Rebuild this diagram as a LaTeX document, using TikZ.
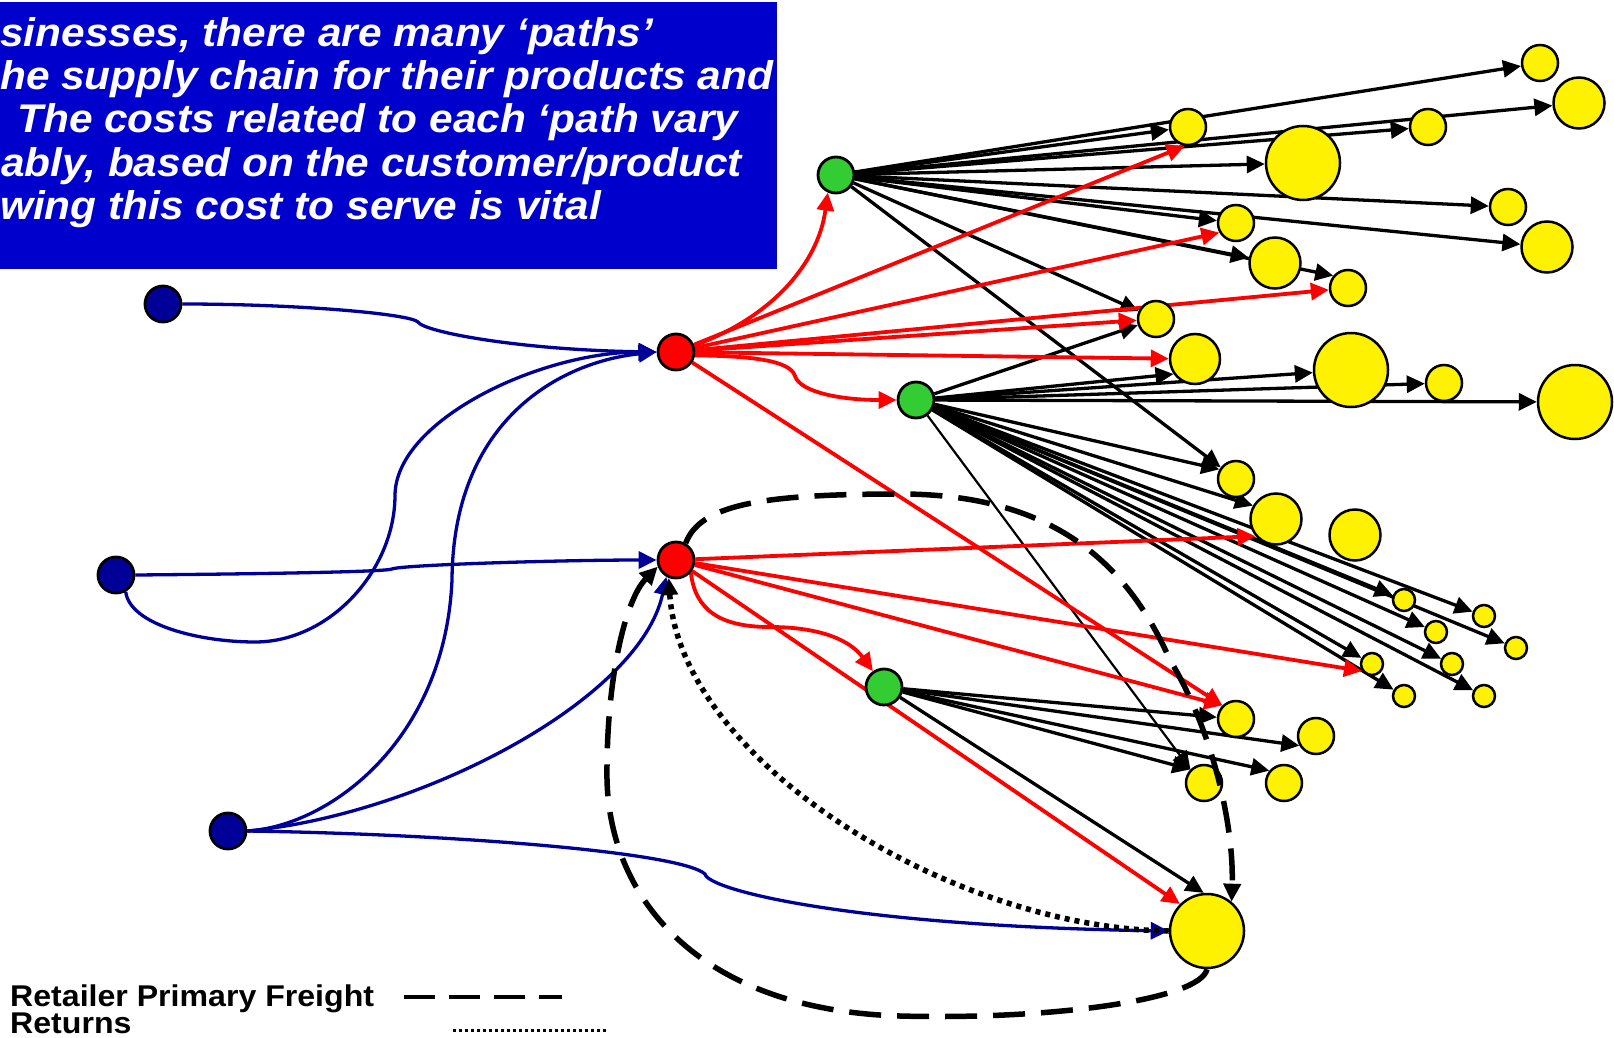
\documentclass[tikz,border=0pt]{standalone}
\usepackage{fontspec}
\setmainfont{Liberation Sans}
\newfontfamily\cajafont[FakeStretch=1.06]{Liberation Sans}
\newfontfamily\leyfont[FakeStretch=1.07]{Liberation Sans}
\usetikzlibrary{arrows.meta,backgrounds}

\definecolor{cajaazul}{RGB}{0,0,204}
\definecolor{marino}{RGB}{0,0,153}
\definecolor{verde}{RGB}{51,204,51}

\begin{document}
\begin{tikzpicture}[x=1pt, y=-1pt,
    nodo/.style={circle, draw=black, line width=2.8pt, inner sep=0pt},
    origen/.style={nodo, fill=marino, minimum size=36pt},
    hub/.style={nodo, fill=red, minimum size=36pt},
    cd/.style={nodo, fill=verde, minimum size=36pt},
    cli/.style={nodo, fill=yellow, line width=2.5pt, minimum size=#1},
    cli/.default=36pt,
    flecha/.style={-{Triangle[length=18pt,width=17pt]}},
    negra/.style={flecha, black, line width=3.3pt},
    roja/.style={flecha, red, line width=3.8pt},
    azul/.style={flecha, marino, line width=3.3pt},
    flete/.style={black, line width=5.5pt, dash pattern=on 32pt off 16pt,
        -{Triangle[length=18pt,width=17pt]}},
    retorno/.style={black, line width=5.5pt, dash pattern=on 5pt off 5pt,
        -{Triangle[length=17pt,width=16pt]}},
    texto/.style={anchor=base west, inner sep=0pt},
]
    \useasboundingbox (0,0) rectangle (1614,1038);

    % Orígenes, centros y distribuidores
    \node[origen] (S1) at (163,304) {};
    \node[origen] (S2) at (116,575) {};
    \node[origen] (S3) at (228,831) {};
    \node[hub]    (R1) at (676,352) {};
    \node[hub]    (R2) at (676,560) {};
    \node[cd]     (G1) at (836,175) {};
    \node[cd]     (G2) at (916,400) {};
    \node[cd]     (G3) at (884,687) {};

    % Clientes
    \node[cli]      (Ca)  at (1540,63)  {};
    \node[cli=51pt] (Cb)  at (1579,103) {};
    \node[cli]      (Cc)  at (1188,127) {};
    \node[cli]      (Cd)  at (1428,127) {};
    \node[cli=74pt] (Ce)  at (1303,163) {};
    \node[cli]      (Cf)  at (1508,207) {};
    \node[cli=51pt] (Cg)  at (1547,247) {};
    \node[cli]      (Ch)  at (1236,223) {};
    \node[cli=51pt] (Ci)  at (1275,263) {};
    \node[cli]      (Cj)  at (1348,288) {};
    \node[cli]      (Ck)  at (1156,319) {};
    \node[cli=50pt] (Cl)  at (1195,359) {};
    \node[cli=74pt] (Cm)  at (1351,370) {};
    \node[cli]      (Cn)  at (1444,383) {};
    \node[cli=74pt] (Co)  at (1575,402) {};
    \node[cli]      (Cp)  at (1236,479) {};
    \node[cli=51pt] (Cq)  at (1276,519) {};
    \node[cli=51pt] (Cr)  at (1355,535) {};
    \node[cli=22pt] (Cs1) at (1404,600) {};
    \node[cli=22pt] (Cs2) at (1484,616) {};
    \node[cli=22pt] (Cs3) at (1436,632) {};
    \node[cli=22pt] (Cs4) at (1516,648) {};
    \node[cli=22pt] (Cs5) at (1452,664) {};
    \node[cli=22pt] (Cs6) at (1372,664) {};
    \node[cli=22pt] (Cs7) at (1404,696) {};
    \node[cli=22pt] (Cs8) at (1484,696) {};
    \node[cli]      (Ct)  at (1236,719) {};
    \node[cli]      (Cu)  at (1316,736) {};
    \node[cli]      (Cv)  at (1204,783) {};
    \node[cli]      (Cw)  at (1284,783) {};
    \node[cli=74pt] (Cz)  at (1207,931) {};

    \begin{scope}[on background layer]
    % Recuadro de texto
    \fill[cajaazul] (0,2) rectangle (777,269);

    % Envíos desde los distribuidores
    \draw[negra] (G1) -- (Ca);
    \draw[negra] (G1) -- (Cb);
    \draw[negra] (G1) -- (Cc);
    \draw[negra] (G1) -- (Cd);
    \draw[negra] (G1) -- (Ce);
    \draw[negra] (G1) -- (Cf);
    \draw[negra] (G1) -- (Cg);
    \draw[negra] (G1) -- (Ch);
    \draw[negra] (G1) -- (Ci);
    \draw[negra] (G1) -- (Cj.140);
    \draw[negra] (G1) -- (Ck);
    \draw[negra] (G1) -- (Cp);
    \draw[negra] (G2) -- (Ck);
    \draw[negra] (G2) -- (Cl.-145);
    \draw[negra] (G2) -- (Cm);
    \draw[negra] (G2) -- (Cn);
    \draw[negra] (G2) -- (Co);
    \draw[negra] (G2) -- (Cp.150);
    \draw[negra] (G2) -- (Cq.150);
    \draw[negra] (G2) -- (Cs1);
    \draw[negra] (G2) -- (Cs2);
    \draw[negra] (G2) -- (Cs3);
    \draw[negra] (G2) -- (Cs4);
    \draw[negra] (G2) -- (Cs5);
    \draw[negra] (G2) -- (Cs6);
    \draw[negra] (G2) -- (Cs7);
    \draw[negra] (G2) -- (Cs8);
    \draw[negra, line width=2.2pt] (G2) -- (Cv.135);
    \draw[negra] (G3) -- (Ct);
    \draw[negra] (G3) -- (Cu.-150);
    \draw[negra] (G3) -- (Cv.135);
    \draw[negra] (G3) -- (Cw.140);
    \draw[negra] (G3) -- (Cz.95);

    % Envíos desde los centros
    \draw[roja] (R1) .. controls (770,318) and (818,265) .. (G1.-115);
    \draw[roja] (R1.-10) .. controls (750,356) and (790,360) .. (795,376)
        .. controls (800,392) and (840,400) .. (G2.west);
    \draw[roja] (R1) -- (Cc.-100);
    \draw[roja] (R1) -- (Ch.-150);
    \draw[roja] (R1) -- (Cj);
    \draw[roja] (R1) -- (Ck);
    \draw[roja] (R1) -- (Cl);
    \draw[roja] (R1) -- (Ct.135);
    \draw[roja] (R2.-40) .. controls (695,610) and (720,627) .. (770,627)
        .. controls (820,627) and (850,640) .. (G3.125);
    \draw[roja] (R2) -- (Cq.-140);
    \draw[roja] (R2) -- (Cs6.-145);
    \draw[roja] (R2) -- (Ct.135);
    \draw[roja] (R2) -- (Cz.135);

    % Abastecimiento desde los orígenes
    \draw[azul] (S1.east) .. controls (300,304) and (410,314) .. (418,322)
        .. controls (424,332) and (520,350) .. (R1.west);
    \draw[azul] (S2.-60) .. controls (130,625) and (200,642) .. (255,642)
        .. controls (330,642) and (395,570) .. (395,495)
        .. controls (396,420) and (540,352) .. (R1.west);
    \draw[azul] (S3.east) .. controls (330,826) and (445,740) .. (452,580)
        .. controls (453,420) and (560,362) .. (R1.west);
    \draw[azul] (S2.east) .. controls (250,574) and (385,572) .. (392,569)
        .. controls (400,565) and (560,560) .. (R2.west);
    \draw[azul] (S3.east) .. controls (420,815) and (640,700) .. (R2.-120);
    \draw[azul] (S3.east) .. controls (450,834) and (680,852) .. (705,874)
        .. controls (708,890) and (850,926) .. (Cz.west);
    \end{scope}

    % Flete primario y devoluciones
    \draw[flete] (R2.60) .. controls (700,505) and (760,494) .. (900,494)
        .. controls (1060,494) and (1130,570) .. (1170,660)
        .. controls (1215,735) and (1234,830) .. (Cz.50);
    \draw[flete] (Cz.south) .. controls (1200,1000) and (1050,1020) .. (900,1016)
        .. controls (700,1010) and (610,900) .. (607,780)
        .. controls (606,680) and (625,600) .. (R2.-160);
    \draw[retorno] (Cz.west) .. controls (950,928) and (680,760) .. (R2.-112);

    % Texto del recuadro
    \begin{scope}[font=\cajafont\bfseries\itshape\fontsize{40}{43}\selectfont, white]
    \node[texto] (t1) at (0,47)  {sinesses, there are many ‘paths’};
    \node[texto] (t2) at (0,90)  {he supply chain for their products and};
    \node[texto] (t3) at (17,133) {The costs related to each ‘path vary};
    \node[texto] (t4) at (1,176) {ably, based on the customer/product};
    \node[texto] (t5) at (0,219) {wing this cost to serve is vital};
    \end{scope}

    % Leyenda
    \begin{scope}[font=\leyfont\bfseries\fontsize{30}{32}\selectfont]
    \node[texto] (l1) at (10,1006) {Retailer Primary Freight};
    \node[texto] (l2) at (10,1033) {Returns};
    \end{scope}
    \draw[black, line width=4pt, dash pattern=on 31pt off 14pt] (404,997) -- (562,997);
    \draw[black, line width=3pt, dash pattern=on 3pt off 3pt] (453,1030) -- (606,1030);
\end{tikzpicture}
\end{document}
